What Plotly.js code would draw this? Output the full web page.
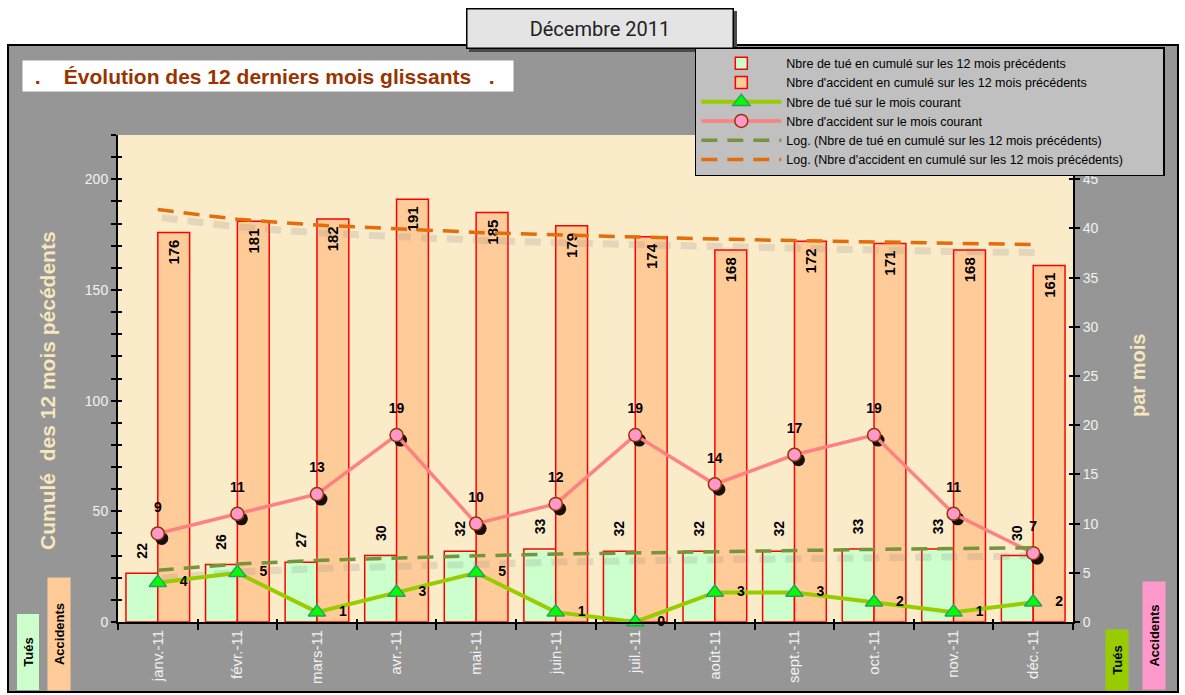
<!DOCTYPE html>
<html>
<head>
<meta charset="utf-8">
<script src="https://cdn.plot.ly/plotly-3.0.1.min.js"></script>
<style>html,body{margin:0;padding:0;background:#fff;}#chart{width:1185px;height:695px;}</style>
</head>
<body>
<div id="chart"></div>
<script>
const months = ['janv.-11','févr.-11','mars-11','avr.-11','mai-11','juin-11','juil.-11','août-11','sept.-11','oct.-11','nov.-11','déc.-11'];
const tuesCumul = [22,26,27,30,32,33,32,32,32,33,33,30];
const accCumul = [176,181,182,191,185,179,174,168,172,171,168,161];
const tuesMois = [4,5,1,3,5,1,0,3,3,2,1,2];
const accMois = [9,11,13,19,10,12,19,14,17,19,11,7];
// trend lines
const trendTues = [23.4,26.2,27.8,29.0,29.9,30.7,31.3,31.9,32.3,32.8,33.2,33.5];
const trendAcc = [186.3,181.9,179.3,177.5,176.0,174.9,173.9,173.0,172.3,171.6,171.0,170.5];

const FONT = 'Liberation Sans, Arial, sans-serif';
const NB = '\u00a0';
const BOLD14 = {family:FONT, size:14, color:'#000', weight:'bold'};

const traces = [
  // shadows (drawn first, on shifted overlay axes)
  {type:'scatter', mode:'lines', x:months, y:trendTues, xaxis:'x2', yaxis:'y4', showlegend:false,
   line:{color:'rgba(120,120,120,0.18)', width:7, dash:'16px,10px'}, hoverinfo:'skip'},
  {type:'scatter', mode:'lines', x:months, y:trendAcc, xaxis:'x2', yaxis:'y4', showlegend:false,
   line:{color:'rgba(120,120,120,0.18)', width:7, dash:'16px,10px'}, hoverinfo:'skip'},
  {type:'scatter', mode:'markers', x:months, y:accMois, xaxis:'x2', yaxis:'y3', showlegend:false, cliponaxis:false,
   marker:{symbol:'circle', size:13, color:'rgba(0,0,0,0.92)'}, hoverinfo:'skip'},
  // bars
  {type:'bar', name:'Nbre de tué en cumulé sur les 12 mois précédents', x:months, y:tuesCumul,
   xaxis:'x', yaxis:'y',
   marker:{color:'#CCFFCC', line:{color:'#FF0000', width:1.5}},
   text:tuesCumul.map(v => NB+NB+NB+v), textposition:'outside', textangle:-90, constraintext:'none', cliponaxis:false,
   outsidetextfont:BOLD14, hoverinfo:'skip'},
  {type:'bar', name:"Nbre d'accident en cumulé sur les 12 mois précédents", x:months, y:accCumul,
   xaxis:'x', yaxis:'y',
   marker:{color:'#FFCC99', line:{color:'#FF0000', width:1.5}},
   text:accCumul.map(v => v+NB), textposition:'inside', insidetextanchor:'end', textangle:-90, constraintext:'none',
   insidetextfont:{family:FONT, size:15, color:'#000', weight:'bold'}, hoverinfo:'skip'},
  // labels of the monthly accident line (text only)
  {type:'scatter', mode:'text', x:months, y:accMois, xaxis:'x3', yaxis:'y6', cliponaxis:false, showlegend:false,
   text:accMois.map(v => v+'<br>'+NB), textposition:'top center', textfont:BOLD14, hoverinfo:'skip'},
  // monthly lines
  {type:'scatter', mode:'lines+markers+text', name:'Nbre de tué sur le mois courant', x:months, y:tuesMois,
   xaxis:'x3', yaxis:'y2', cliponaxis:false,
   line:{color:'#99CC00', width:4},
   marker:{symbol:'triangle-up', size:15, color:'#00FF00', line:{color:'#339966', width:1.5}},
   text:tuesMois.map(v => NB+NB+NB+v), textposition:'middle right', textfont:BOLD14},
  {type:'scatter', mode:'lines+markers', name:"Nbre d'accident sur le mois courant", x:months, y:accMois,
   xaxis:'x3', yaxis:'y2', cliponaxis:false,
   line:{color:'#FF8080', width:3.5},
   marker:{symbol:'circle', size:13, color:'#FF99CC', line:{color:'#993300', width:1.5}}},
  // trend lines
  {type:'scatter', mode:'lines', name:'Log. (Nbre de tué en cumulé sur les 12 mois précédents)', x:months, y:trendTues,
   xaxis:'x3', yaxis:'y5', line:{color:'#77933C', width:3.5, dash:'16px,10px'}},
  {type:'scatter', mode:'lines', name:"Log. (Nbre d'accident en cumulé sur les 12 mois précédents)"+NB.repeat(10), x:months, y:trendAcc,
   xaxis:'x3', yaxis:'y5', line:{color:'#E46C0A', width:3.5, dash:'16px,10px'}}
];

const tickFont = {family:FONT, size:14, color:'#F2F2F2'};
const plotW = 955, plotH = 487;
const px2cat = 12/plotW;
const hidden = {visible:false, showgrid:false, zeroline:false};

const layout = {
  width:1185, height:695,
  margin:{l:118, r:112, t:135, b:73, pad:0},
  paper_bgcolor:'#FFFFFF', plot_bgcolor:'rgba(0,0,0,0)',
  font:{family:FONT},
  barmode:'group', bargap:0.2, bargroupgap:0,
  showlegend:true,
  legend:{x:0.604, xanchor:'left', y:(622-47)/487, yanchor:'top', bgcolor:'#C0C0C0', bordercolor:'#000', borderwidth:1.5,
          font:{family:FONT, size:12.5, color:'#000'}, tracegroupgap:0, itemwidth:80, traceorder:'normal'},
  xaxis:{type:'category', categoryorder:'array', categoryarray:months, range:[-0.5,11.5],
         tickson:'boundaries', ticks:'outside', ticklen:6, tickwidth:2, tickcolor:'#000',
         showline:true, linecolor:'#000', linewidth:2, tickangle:-90,
         tickfont:{family:FONT, size:15, color:'#F2F2F2'}, showgrid:false, zeroline:false},
  yaxis:{range:[0,220], tick0:0, dtick:50, ticks:'outside', ticklen:5, tickwidth:2, tickcolor:'#000',
         showline:true, linecolor:'#000', linewidth:2, tickfont:tickFont, showgrid:false, zeroline:false,
         minor:{dtick:10, ticks:'outside', ticklen:5, tickwidth:2, tickcolor:'#000'}},
  yaxis2:{overlaying:'y', side:'right', range:[0,49.5], tick0:0, dtick:5, ticks:'outside', ticklen:5, tickwidth:2, tickcolor:'#000',
          showline:true, linecolor:'#000', linewidth:2, tickfont:tickFont, showgrid:false, zeroline:false},
  xaxis2:Object.assign({overlaying:'x', type:'category', categoryorder:'array', categoryarray:months,
          range:[-0.5-4*px2cat, 11.5-4*px2cat]}, hidden),
  xaxis3:{overlaying:'x', type:'category', categoryorder:'array', categoryarray:months, range:[-0.5, 11.5],
          tickson:'boundaries', ticks:'inside', ticklen:3, tickwidth:2, tickcolor:'#000',
          showticklabels:false, showline:false, showgrid:false, zeroline:false},
  yaxis3:Object.assign({overlaying:'y', range:[5*49.5/plotH, 49.5+5*49.5/plotH]}, hidden),
  yaxis4:Object.assign({overlaying:'y', range:[8*220/plotH, 220+8*220/plotH]}, hidden),
  yaxis5:{overlaying:'y', side:'left', range:[0,220], tick0:0, dtick:50, ticks:'inside', ticklen:4, tickwidth:2, tickcolor:'#000',
          showticklabels:false, showline:false, showgrid:false, zeroline:false,
          minor:{dtick:10, ticks:'inside', ticklen:4, tickwidth:2, tickcolor:'#000'}},
  yaxis6:{overlaying:'y', side:'right', range:[0,49.5], tick0:0, dtick:5, ticks:'inside', ticklen:4, tickwidth:2, tickcolor:'#000',
          showticklabels:false, showline:false, showgrid:false, zeroline:false},
  shapes:[
    {type:'rect', xref:'paper', yref:'paper', layer:'below',
     x0:(8-118)/plotW, x1:(1178-118)/plotW, y0:(622-692)/plotH, y1:(622-45)/plotH,
     fillcolor:'#969696', line:{color:'#000', width:2}},
    {type:'rect', xref:'paper', yref:'paper', layer:'below', x0:0, x1:1, y0:0, y1:1,
     fillcolor:'#FAEBC9', line:{width:0}},
    {type:'rect', xref:'paper', yref:'paper', layer:'below',
     x0:(469-118)/plotW, x1:(737-118)/plotW, y0:(622-52)/plotH, y1:(622-11)/plotH,
     fillcolor:'#4A4A4A', line:{width:0}}
  ],
  annotations:[
    {xref:'paper', yref:'paper', x:(599.5-118)/plotW, y:(622-28)/plotH, xanchor:'center', yanchor:'middle',
     text:'Décembre 2011', showarrow:false, font:{family:'Roboto, '+FONT, size:20, color:'#222'},
     bgcolor:'#E4E4E4', bordercolor:'#000', borderwidth:1.5, width:263, height:36},
    {xref:'paper', yref:'paper', x:(22-118)/plotW, y:(622-60)/plotH, xanchor:'left', yanchor:'top',
     text:NB+NB+'.'+NB.repeat(4)+'Évolution des 12 derniers mois glissants'+NB.repeat(3)+'.', showarrow:false, align:'left',
     font:{family:FONT, size:21, color:'#993300', weight:'bold'},
     bgcolor:'#FFFFFF', width:490, height:30, borderpad:0},
    {xref:'paper', yref:'paper', x:(47-118)/plotW, y:(622-391)/plotH, xanchor:'center', yanchor:'middle',
     text:'Cumulé  des 12 mois pécédents', textangle:-90, showarrow:false,
     font:{family:FONT, size:21, color:'#F8E6BC', weight:'bold'}},
    {xref:'paper', yref:'paper', x:(1138-118)/plotW, y:(622-376)/plotH, xanchor:'center', yanchor:'middle',
     text:'par mois', textangle:-90, showarrow:false,
     font:{family:FONT, size:20, color:'#F8E6BC', weight:'bold'}},
    {xref:'paper', yref:'paper', x:(27.5-118)/plotW, y:(622-652)/plotH, xanchor:'center', yanchor:'middle',
     text:'<b>Tués</b>', textangle:-90, showarrow:false, font:{family:FONT, size:13, color:'#000'},
     bgcolor:'#CCFFCC', width:75, height:21, borderpad:0},
    {xref:'paper', yref:'paper', x:(59-118)/plotW, y:(622-634)/plotH, xanchor:'center', yanchor:'middle',
     text:'<b>Accidents</b>', textangle:-90, showarrow:false, font:{family:FONT, size:13, color:'#000'},
     bgcolor:'#FFCC99', width:112, height:22, borderpad:0},
    {xref:'paper', yref:'paper', x:(1117-118)/plotW, y:(622-660)/plotH, xanchor:'center', yanchor:'middle',
     text:'<b>Tués</b>', textangle:-90, showarrow:false, font:{family:FONT, size:13, color:'#000'},
     bgcolor:'#99CC00', width:60, height:22, borderpad:0},
    {xref:'paper', yref:'paper', x:(1154-118)/plotW, y:(622-636)/plotH, xanchor:'center', yanchor:'middle',
     text:'<b>Accidents</b>', textangle:-90, showarrow:false, font:{family:FONT, size:13, color:'#000'},
     bgcolor:'#FF99CC', width:107, height:22, borderpad:0}
  ]
};

Plotly.newPlot('chart', traces, layout, {displayModeBar:false, staticPlot:true});
</script>
</body>
</html>
